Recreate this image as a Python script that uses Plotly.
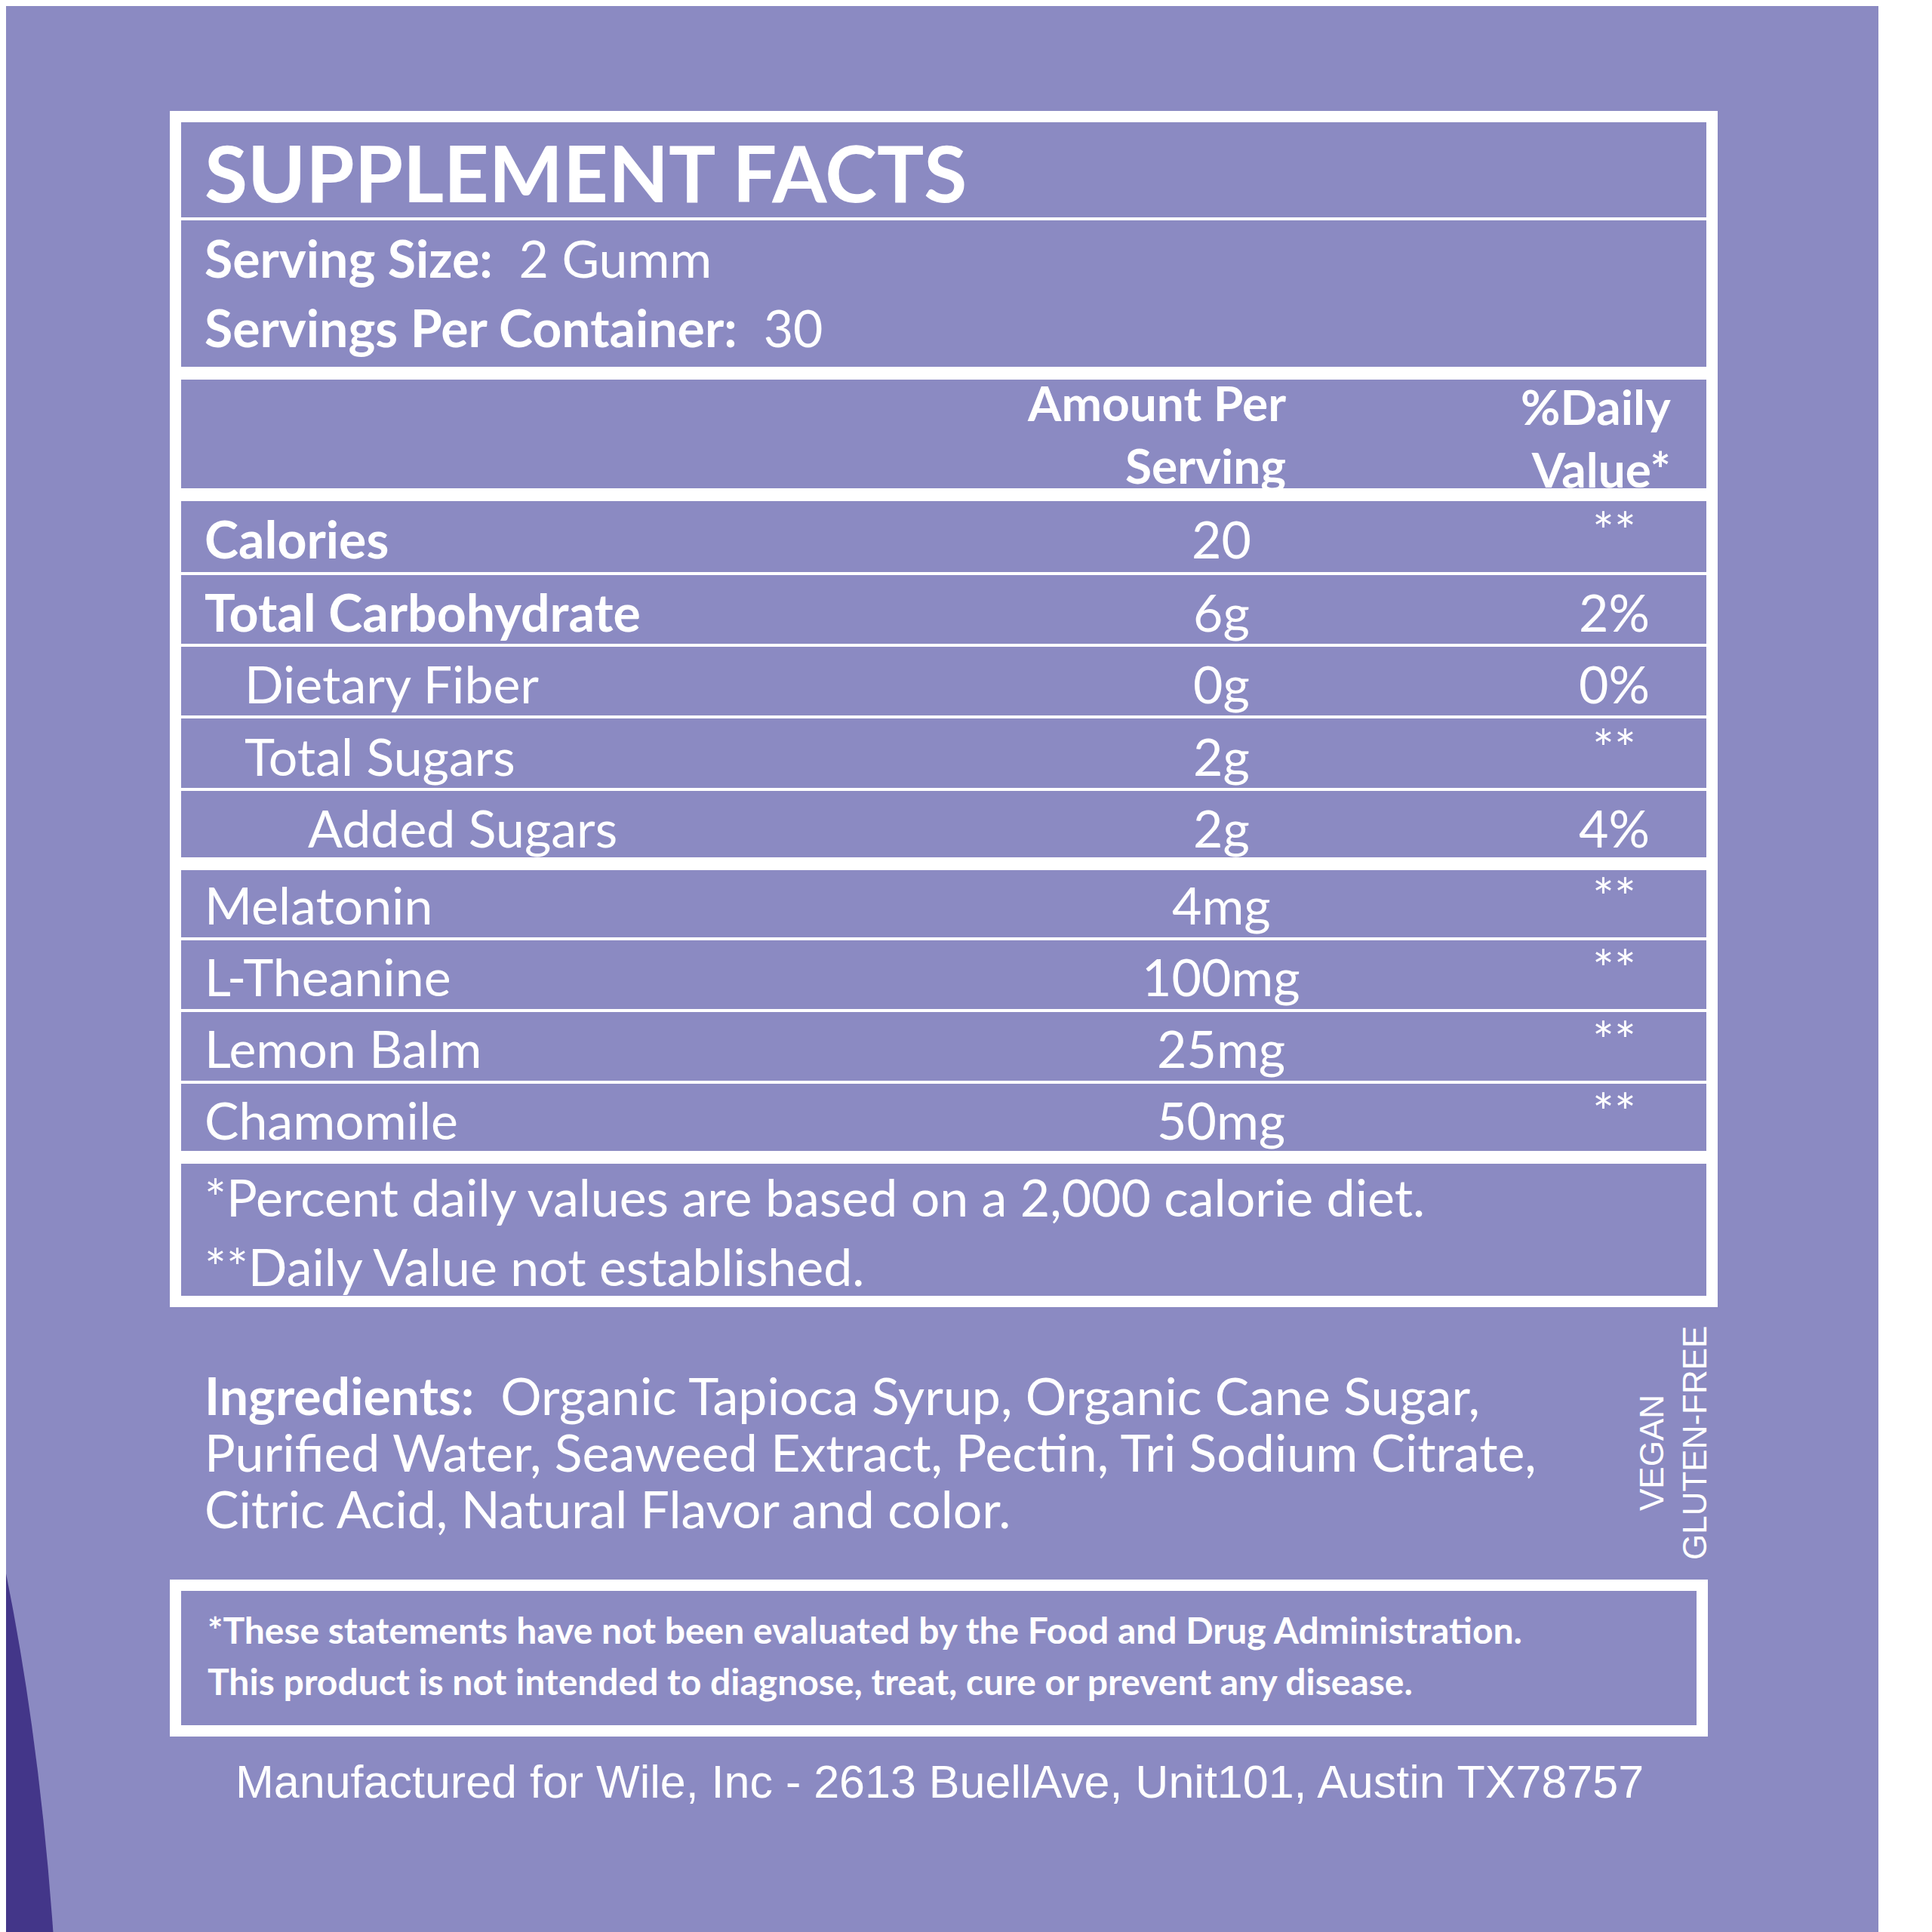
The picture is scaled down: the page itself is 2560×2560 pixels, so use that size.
import plotly.graph_objects as go

BG = "#8B8AC2"
DARK = "#433689"
W = "white"
FT = "Lato"

title = "SUPPLEMENT FACTS"
serving_labels = ["Serving Size:", "Servings Per Container:"]
serving_values = ["2 Gumm", "30"]
header_amount = "Amount Per<br>Serving"
header_dv = "%Daily<br>Value*"
nutrients = ["Calories", "Total Carbohydrate", "Dietary Fiber", "Total Sugars", "Added Sugars",
             "Melatonin", "L-Theanine", "Lemon Balm", "Chamomile"]
indent = [0, 0, 1, 1, 2, 0, 0, 0, 0]
bold = [True, True, False, False, False, False, False, False, False]
amounts = ["20", "6g", "0g", "2g", "2g", "4mg", "100mg", "25mg", "50mg"]
dvs = ["**", "2%", "0%", "**", "4%", "**", "**", "**", "**"]
footnotes = ["*Percent daily values are based on a 2,000 calorie diet.", "**Daily Value not established."]
ingredients = ["<b>Ingredients:</b>  Organic Tapioca Syrup, Organic Cane Sugar,",
               "Purified Water, Seaweed Extract, Pectin, Tri Sodium Citrate,",
               "Citric Acid, Natural Flavor and color."]
badges = ["VEGAN", "GLUTEN-FREE"]
disclaimer = ["*These statements have not been evaluated by the Food and Drug Administration.",
              "This product is not intended to diagnose, treat, cure or prevent any disease."]
maker = "Manufactured for Wile, Inc - 2613 BuellAve, Unit101, Austin TX78757"

fig = go.Figure()
shapes = []
ann = []

def rect(x0, y0, x1, y1, color, line=None, lw=0):
    shapes.append(dict(type="rect", x0=x0, y0=y0, x1=x1, y1=y1, xref="x", yref="y",
                       fillcolor=color, line=dict(width=lw, color=line or color), layer="below"))

def text(x, y, s, size, xa="left", ya="middle", b=False, font=FT, angle=0):
    ann.append(dict(x=x, y=y, xref="x", yref="y", text=(f"<b>{s}</b>" if b else s), showarrow=False,
                    xanchor=xa, yanchor=ya, textangle=angle, align=xa if xa != "center" else "center",
                    font=dict(family=font, size=size, color=W)))

rect(0, 0, 2481, 2560, BG)
shapes.append(dict(type="path", path="M 0 2077 Q 45 2300 63 2560 L 0 2560 Z", xref="x", yref="y",
                   fillcolor=DARK, line=dict(width=0), layer="below"))

# main box
L, R, T, B = 217, 2268, 139, 1724
bw = 15
rect(L, T, R, T + bw, W); rect(L, B - bw, R, B, W)
rect(L, T, L + bw, B, W); rect(R - bw, T, R, B, W)
for y in [478, 639, 1128, 1517]:
    rect(L, y, R, y + 17, W)
for y in [282, 752, 847, 942, 1038, 1236, 1331, 1426]:
    rect(L, y - 2, R, y + 2, W)

text(261, 219, title, 104, b=True)
text(261, 333, f"<b>{serving_labels[0]}</b>  {serving_values[0]}", 68)
text(261, 425, f"<b>{serving_labels[1]}</b>  {serving_values[1]}", 68)
text(1698, 567, header_amount, 64, xa="right", b=True)
text(2208, 572, header_dv, 64, xa="right", b=True)

rows_y = [705, 802, 897, 993, 1088, 1190, 1285, 1380, 1475]
indent_x = [261, 314, 398]
for i, n in enumerate(nutrients):
    y = rows_y[i]
    text(indent_x[indent[i]], y, n, 68, b=bold[i])
    text(1610, y, amounts[i], 68, xa="center")
    dy = -12 if dvs[i] == "**" else 0
    text(2131, y + dy, dvs[i], 68, xa="center")

text(261, 1577, footnotes[0], 68)
text(261, 1669, footnotes[1], 68)

for i, s in enumerate(ingredients):
    text(261, [1840, 1915, 1990][i], s, 68)

text(2180, 1917, badges[0], 44, xa="center", font="Liberation Sans", angle=-90)
text(2237, 1904, badges[1], 44, xa="center", font="Liberation Sans", angle=-90)

# disclaimer box
L2, R2, T2, B2 = 217, 2255, 2085, 2293
rect(L2, T2, R2, T2 + bw, W); rect(L2, B2 - bw, R2, B2, W)
rect(L2, T2, L2 + bw, B2, W); rect(R2 - bw, T2, R2, B2, W)
text(265, 2151, disclaimer[0], 48, b=True)
text(265, 2219, disclaimer[1], 48, b=True)

text(1237, 2353, maker, 61, xa="center", font="Liberation Sans")

fig.update_layout(width=2560, height=2560, margin=dict(l=0, r=0, t=0, b=0),
                  paper_bgcolor="white", plot_bgcolor="white", shapes=shapes, annotations=ann,
                  xaxis=dict(range=[0, 2560], visible=False, fixedrange=True),
                  yaxis=dict(range=[2560, 0], visible=False, fixedrange=True),
                  showlegend=False)
fig.write_html("out.html")
